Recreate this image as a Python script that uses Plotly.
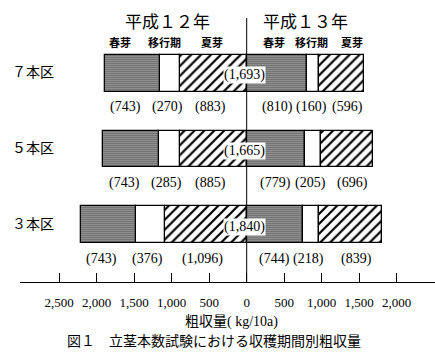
import plotly.graph_objects as go

# ---------------- data ----------------
rows = ["７本区", "５本区", "３本区"]
h12_spring = [743, 743, 743]
h12_trans = [270, 285, 376]
h12_summer = [883, 885, 1096]
h13_spring = [810, 779, 744]
h13_trans = [160, 205, 218]
h13_summer = [596, 696, 839]
totals = [1693, 1665, 1840]
tick_vals = [-2500, -2000, -1500, -1000, -500, 0, 500, 1000, 1500, 2000]
tick_text = ["2,500", "2,000", "1,500", "1,000", "500", "0", "500", "1,000", "1,500", "2,000"]
year_titles = ["平成１２年", "平成１３年"]
period_names = ["春芽", "移行期", "夏芽"]
x_title = "粗収量( kg/10a)"
caption = "図１　立茎本数試験における収穫期間別粗収量"

# ---------------- layout helpers ----------------
W, H = 435, 363
PL, PR, PT, PB = 20, 435, 18, 282       # plot area in pixels
def px_x(px):
    return (px - PL) / (PR - PL)
def px_y(py):
    return (PB - py) / (PB - PT)

SERIF = "Liberation Serif, Noto Sans CJK JP, serif"
JP = "Noto Sans CJK JP, sans-serif"

ypos = [len(rows) - i for i in range(len(rows))]

spring_pat = dict(shape=".", size=2, solidity=0.55, fgcolor="black", bgcolor="white", fillmode="replace")
trans_pat = dict(shape="", fgcolor="black", bgcolor="white")
summer_pat = dict(shape="/", size=7, solidity=0.32, fgcolor="black", bgcolor="white", fillmode="replace")
line = dict(color="black", width=1.3)
BW = 0.49

fig = go.Figure()

def add(vals, sign, pat, name):
    fig.add_trace(go.Bar(
        x=[sign * v for v in vals], y=ypos, orientation="h", width=BW,
        marker=dict(color="white", pattern=pat, line=line),
        name=name, showlegend=False, hoverinfo="skip"))

# left (H12): from centre outward: summer, transition, spring
add(h12_summer, -1, summer_pat, "H12 夏芽")
add(h12_trans, -1, trans_pat, "H12 移行期")
add(h12_spring, -1, spring_pat, "H12 春芽")
# right (H13): from centre outward: spring, transition, summer
add(h13_spring, 1, spring_pat, "H13 春芽")
add(h13_trans, 1, trans_pat, "H13 移行期")
add(h13_summer, 1, summer_pat, "H13 夏芽")

annotations = []
num_font = dict(family=SERIF, size=14, color="black")

def ann(**kw):
    kw.setdefault("showarrow", False)
    kw.setdefault("xanchor", "center")
    kw.setdefault("yanchor", "middle")
    annotations.append(kw)

for i, y in enumerate(ypos):
    sp, tr, su = h12_spring[i], h12_trans[i], h12_summer[i]
    left_centres = [-(su + tr + sp / 2), -(su + tr / 2), -su / 2]
    left_vals = [sp, tr, su]
    left_nudge = [-7, -3, -3]
    for xc, v, nd in zip(left_centres, left_vals, left_nudge):
        ann(x=xc, y=y, xref="x", yref="y", text=f"({v:,})", font=num_font,
            yshift=-34, xshift=nd)
    sp, tr, su = h13_spring[i], h13_trans[i], h13_summer[i]
    right_centres = [sp / 2, sp + tr / 2, sp + tr + su / 2]
    right_vals = [sp, tr, su]
    right_nudge = [0, -2, 6]
    for xc, v, nd in zip(right_centres, right_vals, right_nudge):
        ann(x=xc, y=y, xref="x", yref="y", text=f"({v:,})", font=num_font,
            yshift=-34, xshift=nd)
    # centre total
    ann(x=0, y=y, xref="x", yref="y", text=f"({totals[i]:,})", font=num_font,
        bgcolor="white", borderpad=0, yshift=-2, xshift=-2)
    # row label
    ann(x=px_x(10), y=y, xref="paper", yref="y", text=rows[i], xanchor="left",
        yshift=2, font=dict(family=JP, size=14, color="black"))

# year titles
for txt, cx in zip(year_titles, [167, 305.5]):
    ann(x=px_x(cx), y=px_y(20), xref="paper", yref="paper", text=txt,
        font=dict(family=JP, size=17, color="black"))
# period names
for cxs in ([120, 164.5, 211.5], [274, 311.5, 351.5]):
    for txt, cx in zip(period_names, cxs):
        ann(x=px_x(cx), y=px_y(42), xref="paper", yref="paper", text=f"<b>{txt}</b>",
            font=dict(family=JP, size=11, color="black"))
# axis title and caption
ann(x=px_x(231), y=px_y(322), xref="paper", yref="paper", text=x_title,
    font=dict(family=SERIF, size=14, color="black"))
ann(x=px_x(214), y=px_y(340), xref="paper", yref="paper", text=caption,
    font=dict(family=JP, size=14, color="black"))

scale = 37.5 / 500.0
x0 = -(246.7 - PL) / scale
x1 = (PR - 246.7) / scale

fig.update_layout(
    width=W, height=H,
    margin=dict(l=PL, r=W - PR, t=PT, b=H - PB, pad=0),
    paper_bgcolor="white", plot_bgcolor="white",
    barmode="relative", bargap=0,
    showlegend=False,
    xaxis=dict(range=[x0, x1], tickvals=tick_vals, ticktext=tick_text,
               ticks="inside", ticklen=9, tickwidth=1, tickcolor="black",
               showline=True, linecolor="black", linewidth=1,
               showgrid=False, zeroline=False, ticklabelstandoff=8,
               tickfont=dict(family=SERIF, size=13, color="black"), fixedrange=True),
    yaxis=dict(range=[0.2384, 3.735], visible=False, fixedrange=True),
    shapes=[dict(type="line", xref="x", yref="paper", x0=0, x1=0, y0=0, y1=1,
                 line=dict(color="black", width=1), layer="above")],
    annotations=annotations,
)

fig.write_html("out.html", config=dict(displayModeBar=False),
               post_script="document.body.style.margin='0px';")
